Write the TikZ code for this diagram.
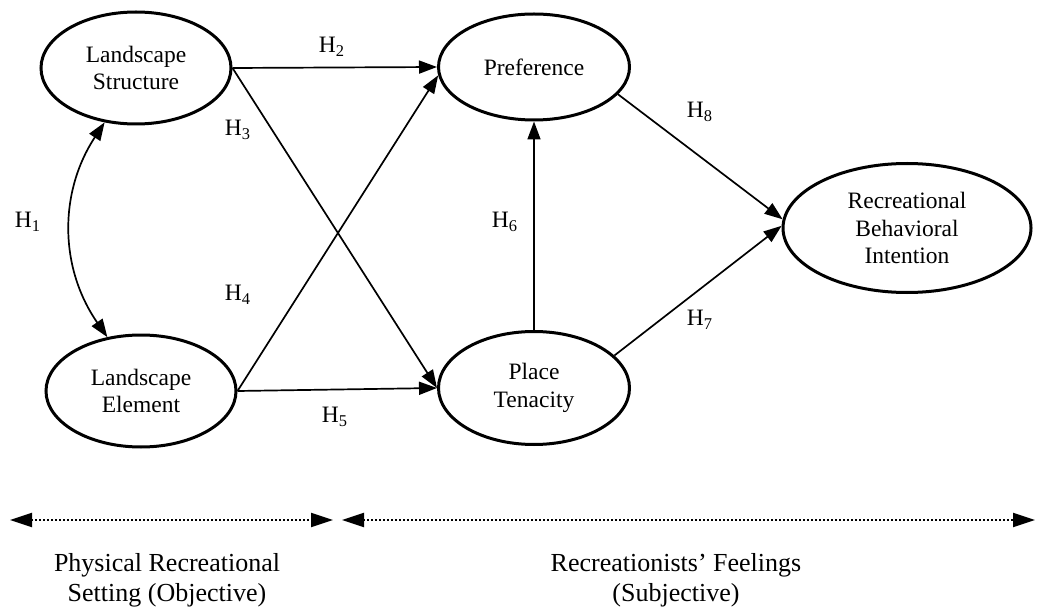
\documentclass[tikz,border=0pt]{standalone}
\usepackage{fontspec}
\setmainfont{Liberation Serif}
\usetikzlibrary{arrows.meta,shapes.geometric}

\begin{document}
\begin{tikzpicture}[x=0.5pt,y=-0.5pt,>={Triangle[length=9pt,width=6.5pt]},
 v/.style={draw,ellipse,line width=1.5pt,inner sep=0pt,align=center,font=\fontsize{11.75}{13.8}\selectfont},
 e/.style={->,line width=0.85pt},
 h/.style={font=\fontsize{11.75}{13.8}\selectfont,inner sep=1pt},
 span/.style={dash pattern=on 1pt off 1pt,line width=1.1pt,{Triangle[length=11pt,width=7pt]}-{Triangle[length=11pt,width=7pt]}},
 g/.style={align=center,inner sep=0pt,font=\fontsize{13}{15}\selectfont}]
 \useasboundingbox (0,0) rectangle (1038,609);
 % constructs
 \node[v,minimum width=95pt,minimum height=56pt](ls) at (136,68){Landscape\\Structure};
 \node[v,minimum width=95pt,minimum height=56pt](le) at (141,391){Landscape\\Element};
 \node[v,minimum width=95.5pt,minimum height=53pt](pref) at (534,67){Preference};
 \node[v,minimum width=95.5pt,minimum height=56.5pt](pt) at (534,388){Place\\Tenacity};
 \node[v,minimum width=124pt,minimum height=64.5pt](rbi) at (907,228){Recreational\\Behavioral\\Intention};
 % hypotheses
 \draw[e,<->](ls.240) to[bend right=34] (le.122);
 \draw[e](ls.east)--(pref.west);
 \draw[e](ls.east)--(pt.west);
 \draw[e](le.east)--(pref.185);
 \draw[e](le.east)--(pt.west);
 \draw[e](pt.north)--(pref.south);
 \draw[e](pt.22)--(rbi.179);
 \draw[e](pref.-18)--(rbi.176);
 \node[h](h1) at (28,222){H\textsubscript{1}};
 \node[h](h2) at (332,47){H\textsubscript{2}};
 \node[h](h3) at (238,130){H\textsubscript{3}};
 \node[h](h4) at (238,295){H\textsubscript{4}};
 \node[h](h5) at (335,417){H\textsubscript{5}};
 \node[h](h6) at (505,222){H\textsubscript{6}};
 \node[h](h7) at (700,320){H\textsubscript{7}};
 \node[h](h8) at (700,112){H\textsubscript{8}};
 % setting / feelings
 \coordinate (o1) at (10,520);
 \coordinate (o2) at (333,520);
 \coordinate (s1) at (342,520);
 \coordinate (s2) at (1035,520);
 \draw[span](o1)--(o2);
 \draw[span](s1)--(s2);
 \node[g](obj) at (167,580){Physical Recreational\\Setting (Objective)};
 \node[g](subj) at (676,580){Recreationists’ Feelings\\(Subjective)};
\end{tikzpicture}
\end{document}
